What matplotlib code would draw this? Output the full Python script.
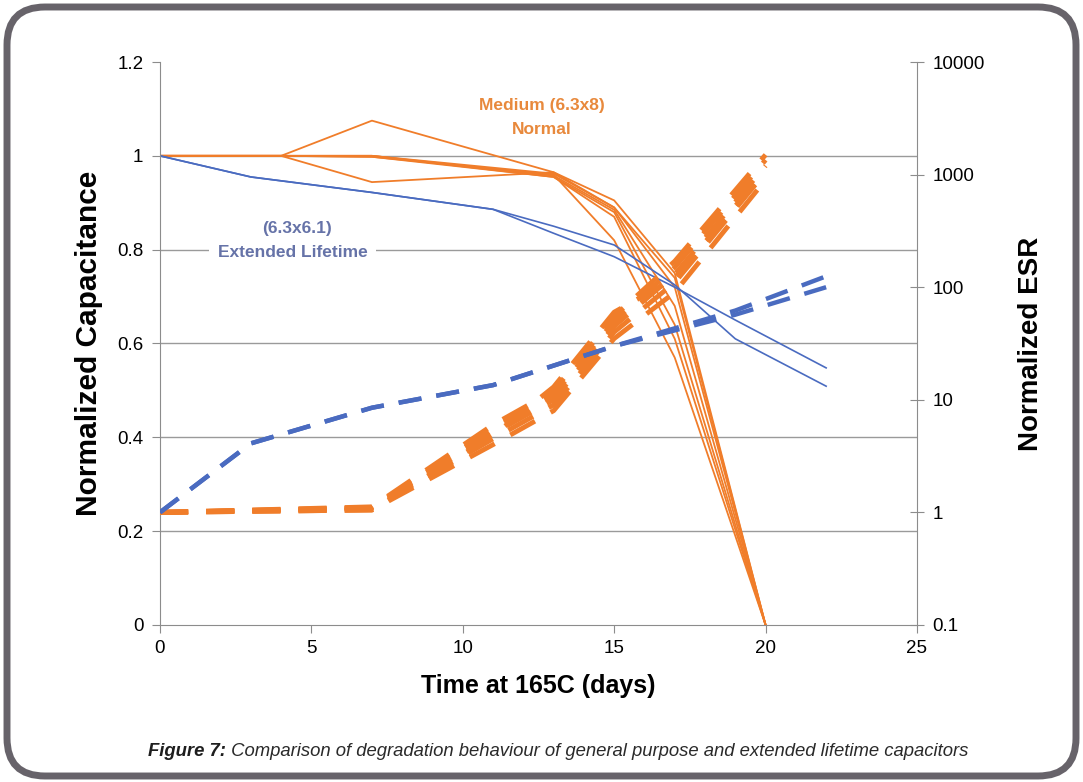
import numpy as np
import matplotlib
matplotlib.use("Agg")
from matplotlib import pyplot as plt
from matplotlib.patches import FancyBboxPatch
from matplotlib.transforms import IdentityTransform

plt.rcParams['font.family'] = ['Liberation Sans', 'DejaVu Sans']

# Data
# Extended lifetime capacitors (6.3x6.1), blue
days_ext = [0, 3, 7, 11, 13, 15, 17, 19, 22]
cap_ext_a = [1.0, 0.955, 0.922, 0.886, 0.835, 0.785, 0.72, 0.65, 0.548]
cap_ext_b = [1.0, 0.955, 0.922, 0.886, 0.85, 0.81, 0.725, 0.61, 0.509]

days_ext_esr = [0, 3, 7, 11, 15, 19, 22]
esr_ext_a = [1.0, 4.1, 8.5, 13.5, 30, 62, 125]
esr_ext_b = [1.0, 4.1, 8.5, 13.5, 30, 57, 100]

# General purpose capacitors, medium (6.3x8), orange
days_norm = [0, 4, 7, 13, 15, 17, 20]
cap_norm = [
    [1.0, 1.0, 1.075, 0.965, 0.905, 0.75, 0.0],
    [1.0, 1.0, 0.944, 0.965, 0.89, 0.72, 0.0],
    [1.0, 1.0, 1.0, 0.958, 0.885, 0.68, 0.0],
    [1.0, 1.0, 1.0, 0.955, 0.88, 0.64, 0.0],
    [1.0, 1.0, 0.998, 0.955, 0.87, 0.61, 0.0],
    [1.0, 1.0, 0.998, 0.96, 0.82, 0.57, 0.0],
    [1.0, 1.0, 1.0, 0.962, 0.89, 0.74, 0.0],
]

days_norm_esr = [0, 7, 11, 13, 15, 17, 20]
esr_norm = [
    [1.0, 1.05, 4.0, 8.0, 35, 90, 900],
    [1.0, 1.08, 4.5, 9.0, 40, 110, 1050],
    [1.0, 1.1, 5.0, 10.0, 45, 130, 1200],
    [1.0, 1.1, 5.5, 11.0, 50, 150, 1350],
    [1.0, 1.12, 6.0, 12.0, 55, 170, 1500],
    [1.0, 1.05, 4.8, 13.0, 60, 120, 1100],
]

cap_ticks = [0, 0.2, 0.4, 0.6, 0.8, 1.0, 1.2]
esr_ticks = [0.1, 1, 10, 100, 1000, 10000]
esr_labels = ['0.1', '1', '10', '100', '1000', '10000']

orange = '#F07D2A'
blue = '#4A6BC0'
grey = '#8C8C8C'

fig = plt.figure(figsize=(10.83, 7.82), dpi=100)
ax = fig.add_axes([0.1477, 0.2008, 0.699, 0.7199])

for y in cap_ticks[1:-1]:
    ax.axhline(y, color='#9A9A9A', lw=1.0, zorder=0)

for vals in cap_norm:
    ax.plot(days_norm, vals, color=orange, lw=1.3, zorder=2)
ax.plot(days_ext, cap_ext_a, color=blue, lw=1.2, zorder=2)
ax.plot(days_ext, cap_ext_b, color=blue, lw=1.2, zorder=2)

ax.set_xlim(0, 25)
ax.set_ylim(0, 1.2)
ax.set_xticks([0, 5, 10, 15, 20, 25])
ax.set_yticks(cap_ticks)
ax.set_yticklabels(['%g' % v for v in cap_ticks])
ax.tick_params(axis='both', direction='out', length=6, color=grey,
               labelsize=13.5, pad=5)
ax.tick_params(axis='y', pad=6)
for s in ['top', 'right']:
    ax.spines[s].set_visible(False)
for s in ['left', 'bottom']:
    ax.spines[s].set_color(grey)
ax.set_xlabel('Time at 165C (days)', fontsize=18, fontweight='bold', labelpad=12)
ax.set_ylabel('Normalized Capacitance', fontsize=21.5, fontweight='bold', labelpad=10)

ax.text(12.6, 1.108, 'Medium (6.3x8)', color='#E8893C', fontsize=12.5,
        fontweight='bold', ha='center', va='center', zorder=5)
ax.text(12.6, 1.057, 'Normal', color='#E8893C', fontsize=12.5,
        fontweight='bold', ha='center', va='center', zorder=5)
ax.text(4.53, 0.845, '(6.3x6.1)', color='#6673A8', fontsize=12.5,
        fontweight='bold', ha='center', va='center', zorder=5)
ax.text(4.38, 0.795, 'Extended Lifetime', color='#6673A8', fontsize=12.5,
        fontweight='bold', ha='center', va='center', zorder=5,
        bbox=dict(facecolor='white', edgecolor='none', pad=6))

ax2 = ax.twinx()
ax2.set_yscale('log')
for vals in esr_norm:
    ax2.plot(days_norm_esr, vals, color=orange, lw=3.5, dashes=(5.8, 3.7))
ax2.plot(days_ext_esr, esr_ext_a, color=blue, lw=3.2, dashes=(5.2, 3.4))
ax2.plot(days_ext_esr, esr_ext_b, color=blue, lw=3.2, dashes=(5.2, 3.4))
ax2.set_ylim(0.1, 10000)
ax2.set_yticks(esr_ticks)
ax2.set_yticklabels(esr_labels)
ax2.yaxis.set_minor_locator(matplotlib.ticker.NullLocator())
ax2.tick_params(axis='y', direction='inout', length=10, color=grey,
                labelsize=13.5, pad=6)
for s in ['top', 'left', 'bottom']:
    ax2.spines[s].set_visible(False)
ax2.spines['right'].set_color(grey)
ax2.set_ylabel('Normalized ESR', fontsize=20, fontweight='bold', labelpad=24)

# rounded frame around the figure
frame = FancyBboxPatch((7, 6), 1069, 769, boxstyle='round,pad=0,rounding_size=38',
                       transform=IdentityTransform(), facecolor='none',
                       edgecolor='#67636A', lw=5, zorder=10)
fig.patches.append(frame)

t1 = fig.text(148 / 1083, 1 - 752 / 782, 'Figure 7:', fontsize=13.3,
              fontweight='bold', style='italic', va='center', color='#1E1E1E')
ax.annotate(' Comparison of degradation behaviour of general purpose and '
            'extended lifetime capacitors', xy=(1, 0.5), xycoords=t1,
            va='center', ha='left', fontsize=13.3, style='italic',
            color='#2A2A2A', annotation_clip=False)

plt.savefig('out.png', dpi=100)
